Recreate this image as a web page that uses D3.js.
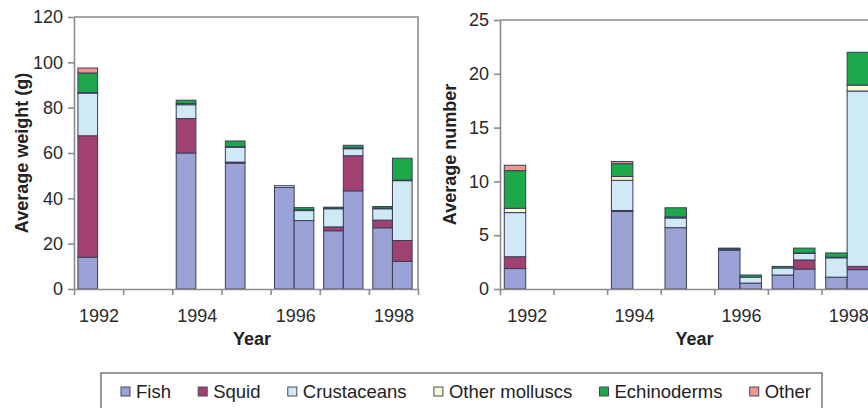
<!DOCTYPE html>
<html>
<head>
<meta charset="utf-8">
<title>Diet by year</title>
<script src="https://d3js.org/d3.v7.min.js"></script>
<style>
  body { margin: 0; background: #fff; }
  svg { display: block; font-family: "Liberation Sans", Arial, sans-serif; }
  .axis path, .axis line { stroke: #8c8c8c; stroke-width: 1.6; }
  .axis text { fill: #2a2a2a; font-size: 18px; }
  .title { font-size: 18px; font-weight: bold; fill: #222; }
  .leg { font-size: 18.5px; fill: #222; }
</style>
</head>
<body>
<div id="chart"></div>
<script>
// categories
var series = ["Fish", "Squid", "Crustaceans", "Other molluscs", "Echinoderms", "Other"];
var colors = ["#9aa2d6", "#a04170", "#cfe9f5", "#fbf8d6", "#1ca84b", "#f1958f"];
var years = [1992, 1993, 1994, 1995, 1996, 1997, 1998];
var yearLabels = [1992, 1994, 1996, 1998];

// one entry per bar: year and which of the two samples within the year
var barYear = [1992, 1994, 1995, 1996, 1996, 1997, 1997, 1998, 1998];
var barSlot = [0, 0, 0, 0, 1, 0, 1, 0, 1];

// average weight (g)
var fishW   = [14, 60, 55.5, 44.8, 30.2, 25.7, 43.3, 27, 12.2];
var squidW  = [53.6, 15.2, 0.5, 0, 0, 1.7, 15.5, 3.4, 9.2];
var crustW  = [18.8, 6.1, 6.5, 0.8, 4.4, 8, 3.1, 5, 26.4];
var mollW   = [0.3, 0.5, 0.3, 0, 0.3, 0.2, 0.4, 0.3, 0.3];
var echinoW = [8.6, 1.5, 2.5, 0, 1.0, 0.5, 1.1, 0.7, 9.6];
var otherW  = [2.2, 0, 0, 0, 0, 0, 0, 0, 0];

// average number
var fishN   = [1.9, 7.2, 5.7, 3.6, 0.55, 1.3, 1.85, 1.1, 1.8];
var squidN  = [1.1, 0.1, 0, 0, 0, 0, 0.85, 0, 0.3];
var crustN  = [4.1, 2.8, 0.9, 0.1, 0.55, 0.65, 0.6, 1.8, 16.3];
var mollN   = [0.4, 0.35, 0.1, 0, 0, 0, 0.05, 0.05, 0.55];
var echinoN = [3.5, 1.2, 0.85, 0.1, 0.2, 0.15, 0.45, 0.4, 3.05];
var otherN  = [0.5, 0.2, 0, 0, 0, 0, 0, 0, 0];

var yTicksW = [0, 20, 40, 60, 80, 100, 120];
var yTicksN = [0, 5, 10, 15, 20, 25];

var width = 868, height = 408;

var svg = d3.select("#chart").append("svg")
    .attr("width", width)
    .attr("height", height);

function makeRows(arrs) {
  return barYear.map(function(y, i) {
    var r = { year: y, slot: barSlot[i] };
    series.forEach(function(s, k) { r[s] = arrs[k][i]; });
    return r;
  });
}

function panel(opt) {
  var g = svg.append("g");
  var x = d3.scaleLinear().domain([1992, 1999]).range([opt.left, opt.right]);
  var bw = x(1993) - x(1992);
  var slot = d3.scaleBand().domain([0, 1]).range([bw * 0.08, bw * 0.88]).padding(0);
  var y = d3.scaleLinear().domain([0, opt.max]).range([opt.bottom, opt.top]);

  var stacked = d3.stack().keys(series)(makeRows(opt.data));

  g.selectAll("g.layer")
    .data(stacked)
    .enter().append("g")
      .attr("class", "layer")
      .attr("fill", function(d, i) { return colors[i]; })
    .selectAll("rect")
    .data(function(d) { return d.filter(function(p) { return p[1] - p[0] > 0; }); })
    .enter().append("rect")
      .attr("x", function(d) { return x(d.data.year) + slot(d.data.slot); })
      .attr("width", slot.bandwidth())
      .attr("y", function(d) { return y(d[1]); })
      .attr("height", function(d) { return y(d[0]) - y(d[1]); })
      .attr("stroke", "#3c3d58")
      .attr("stroke-width", 1);

  // box top and right
  g.append("path")
    .attr("d", "M" + opt.left + "," + opt.top + "H" + x(1999) + "V" + opt.bottom)
    .attr("fill", "none")
    .attr("stroke", "#8c8c8c")
    .attr("stroke-width", 1.6);

  g.append("g")
    .attr("class", "axis")
    .attr("transform", "translate(" + opt.left + ",0)")
    .call(d3.axisLeft(y).tickValues(opt.ticks).tickSize(6).tickSizeOuter(0).tickPadding(5));

  g.append("g")
    .attr("class", "axis")
    .attr("transform", "translate(0," + opt.bottom + ")")
    .call(d3.axisBottom(x).tickValues(years.concat([1999])).tickFormat("").tickSize(6).tickSizeOuter(0));

  var lab = g.append("g")
    .attr("class", "axis")
    .attr("transform", "translate(0," + opt.bottom + ")")
    .call(d3.axisBottom(x).tickValues(yearLabels.map(function(v) { return v + 0.5; }))
      .tickFormat(function(v) { return Math.floor(v); }).tickSize(0).tickPadding(20));
  lab.select(".domain").remove();

  g.append("text")
    .attr("class", "title")
    .attr("x", (opt.left + x(1999)) / 2 + opt.yearShift)
    .attr("y", 345)
    .attr("text-anchor", "middle")
    .text("Year");

  g.append("text")
    .attr("class", "title")
    .attr("transform", "translate(" + opt.titleX + "," + ((opt.top + opt.bottom) / 2) + ") rotate(-90)")
    .attr("text-anchor", "middle")
    .text(opt.title);
}

panel({ left: 74, right: 418, top: 17, bottom: 289, max: 120, ticks: yTicksW,
        data: [fishW, squidW, crustW, mollW, echinoW, otherW],
        title: "Average weight (g)", titleX: 28, yearShift: 6 });

panel({ left: 500, right: 875, top: 20, bottom: 289, max: 25, ticks: yTicksN,
        data: [fishN, squidN, crustN, mollN, echinoN, otherN],
        title: "Average number", titleX: 456, yearShift: 7 });

// legend
var leg = svg.append("g");
leg.append("rect")
  .attr("x", 101).attr("y", 373)
  .attr("width", 721).attr("height", 50)
  .attr("fill", "#fff")
  .attr("stroke", "#555").attr("stroke-width", 1.2);

var items = leg.selectAll("g.item")
  .data(series)
  .enter().append("g")
    .attr("class", "item");

items.append("rect")
  .attr("width", 9).attr("height", 9)
  .attr("y", 387)
  .attr("fill", function(d, i) { return colors[i]; })
  .attr("stroke", "#4a4a5a").attr("stroke-width", 1);

items.append("text")
  .attr("class", "leg")
  .attr("y", 398)
  .text(function(d) { return d; });

var widths = [];
items.selectAll("text").each(function() { widths.push(this.getComputedTextLength()); });
var gapIn = 6, startX = 121, endX = 811;
var used = d3.sum(widths) + series.length * (9 + gapIn);
var gapOut = (endX - startX - used) / (series.length - 1);
var cx = startX;
items.each(function(d, i) {
  var it = d3.select(this);
  it.select("rect").attr("x", cx);
  it.select("text").attr("x", cx + 9 + gapIn);
  cx += 9 + gapIn + widths[i] + gapOut;
});
</script>
</body>
</html>
